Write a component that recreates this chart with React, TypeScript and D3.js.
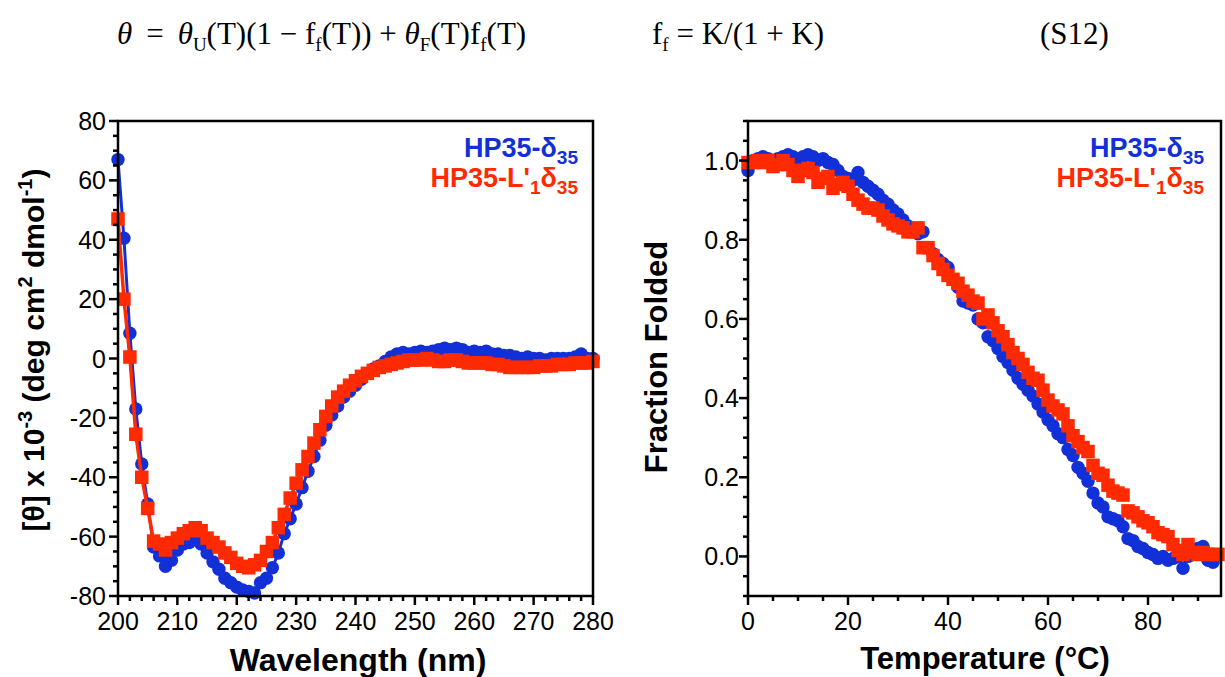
import React from 'react';
import * as d3 from 'd3';

// ---------- Data ----------
const wavelengths = [200,201,202,203,204,205,206,207,208,209,210,211,212,213,214,215,216,217,218,219,220,221,222,223,224,225,226,227,228,229,230,231,232,233,234,235,236,237,238,239,240,241,242,243,244,245,246,247,248,249,250,251,252,253,254,255,256,257,258,259,260,261,262,263,264,265,266,267,268,269,270,271,272,273,274,275,276,277,278,279,280];
const cdHP35 = [67,40.5,8.5,-17,-35.5,-49,-63.5,-66.5,-70,-68,-64.5,-62.5,-62,-61,-62.5,-65.5,-68.5,-71,-74,-75.5,-77,-78,-78.5,-79,-75.5,-74,-70.5,-65.5,-59,-54,-49,-43.5,-38,-33,-27.5,-22.5,-19,-16,-13,-11,-9,-7,-5,-3.5,-2.5,-1,0.5,1.5,2,1.5,2,2.5,2,2.5,3,3.5,3,3.5,3,2,2.5,2,2.5,1.5,1.5,1,1,0.5,0,0.5,0,0,-0.5,0,0,0,0,0.5,1.5,0,0];
const cdHP35L = [47,20,0.5,-25.5,-40,-50.5,-61.5,-62.5,-64.5,-62,-60.5,-59,-58,-57,-58,-60.5,-62,-63.5,-65.5,-67,-69,-70,-70.5,-69.5,-68,-65,-62,-57,-52.5,-47,-42,-37.5,-33,-28.5,-24,-19.5,-16,-13,-11,-9,-7.5,-6,-5,-4,-3,-2.5,-2,-1.5,-1,-0.5,-0.5,-0.5,0,-0.5,-1,-1,-0.5,-0.5,-1,-1.5,-1.5,-1.5,-1.5,-2,-2,-2.5,-3,-3,-3,-3,-3,-2.5,-2.5,-2.5,-2,-2,-2,-1.5,-1.5,-1.5,-1];

const tempHP35 = [0,1,2,3,4,5,6,7,8,9,10,11,12,13,14,15,16,17,18,19,20,21,22,23,24,25,26,27,28,29,30,31,32,33,34,35,36,37,38,39,40,41,42,43,44,45,46,47,48,49,50,51,52,53,54,55,56,57,58,59,60,61,62,63,64,65,66,67,68,69,70,71,72,73,74,75,76,77,78,79,80,81,82,83,84,85,86,87,88,89,90,91,92,93];
const ffHP35 = [0.975,1.0,1.005,1.01,1.005,1.0,1.005,1.01,1.015,1.01,1.0,1.01,1.015,1.01,1.0,1.005,0.995,0.99,0.975,0.96,0.955,0.95,0.97,0.945,0.935,0.925,0.915,0.9,0.89,0.875,0.865,0.85,0.835,0.825,0.815,0.82,0.78,0.765,0.75,0.74,0.73,0.7,0.68,0.645,0.64,0.635,0.6,0.59,0.555,0.545,0.525,0.505,0.49,0.47,0.45,0.435,0.42,0.405,0.385,0.365,0.345,0.33,0.31,0.3,0.27,0.255,0.225,0.21,0.19,0.16,0.135,0.125,0.1,0.095,0.09,0.075,0.045,0.04,0.025,0.02,0.01,0.005,-0.005,0.0,-0.01,-0.005,0.0,-0.03,0.0,0.005,0.02,0.025,-0.01,-0.015];
const tempHP35L = [0,1,2,3,4,5,6,7,8,9,10,11,12,13,14,15,16,17,18,19,20,21,22,23,24,25,26,27,28,29,30,31,32,33,34,35,36,37,38,39,40,41,42,43,44,45,46,47,48,49,50,51,52,53,54,55,56,57,58,59,60,61,62,63,64,65,66,67,68,69,70,71,72,73,74,75,76,77,78,79,80,81,82,83,84,85,86,87,88,89,90,91,92,93,94];
const ffHP35L = [0.995,0.995,1.0,0.995,1.0,0.985,0.99,1.0,0.99,0.975,0.96,0.975,0.98,0.97,0.945,0.955,0.96,0.93,0.94,0.945,0.935,0.915,0.9,0.89,0.88,0.88,0.875,0.86,0.85,0.84,0.835,0.83,0.82,0.82,0.83,0.78,0.78,0.76,0.74,0.725,0.71,0.7,0.69,0.67,0.66,0.645,0.64,0.6,0.61,0.59,0.57,0.555,0.535,0.515,0.5,0.485,0.465,0.45,0.445,0.42,0.395,0.38,0.37,0.36,0.33,0.305,0.29,0.275,0.265,0.23,0.21,0.205,0.18,0.165,0.16,0.155,0.115,0.11,0.1,0.09,0.085,0.075,0.06,0.055,0.05,0.03,0.015,0.005,0.03,0.01,0.005,0.01,0.005,0.005,0.005];

const cdXTicks = [200,210,220,230,240,250,260,270,280];
const cdYTicks = [-80,-60,-40,-20,0,20,40,60,80];
const meltXTicks = [0,20,40,60,80];
const meltYTicks = [0.0,0.2,0.4,0.6,0.8,1.0];

const BLUE = '#1230d8';
const RED = '#ff2a00';
const SANS = 'Liberation Sans, Arial, Helvetica, sans-serif';
const SERIF = 'Liberation Serif, Times New Roman, serif';

// ---------- Scales ----------
const cdX = d3.scaleLinear().domain([200, 280]).range([118, 593]);
const cdY = d3.scaleLinear().domain([-80, 80]).range([596, 121]);
const mX = d3.scaleLinear().domain([0, 94.6]).range([748, 1221]);
const mY = d3.scaleLinear().domain([-0.1, 1.1]).range([596, 121]);

const Legend = ({ x, y }: { x: number; y: number }) => (
  <g fontFamily={SANS} fontWeight="bold" fontSize={27} textAnchor="end">
    <text x={x} y={y} fill={BLUE}>
      HP35-δ<tspan fontSize={19} dy={7}>35</tspan>
    </text>
    <text x={x} y={y + 30} fill={RED}>
      HP35-L'<tspan fontSize={19} dy={7}>1</tspan><tspan dy={-7}>δ</tspan><tspan fontSize={19} dy={7}>35</tspan>
    </text>
  </g>
);

export default function App() {
  const cdLine = (vals: number[]) =>
    d3.line<number>().x((_, i) => cdX(wavelengths[i])).y((v) => cdY(v))(vals) || '';

  const cdMinorX = d3.range(200, 281, 2);
  const cdMinorY = d3.range(-80, 81, 5);
  const mMinorX = d3.range(0, 94, 5);
  const mMinorY = d3.range(-0.1, 1.1001, 0.05);

  const sq = 13.5;

  return (
    <svg width={1225} height={677} style={{ position: 'absolute', left: 0, top: 0, background: '#fff' }}>
      {/* Equation */}
      <g fontFamily={SERIF} fontSize={31} fill="#000">
        <text x={117} y={44}>
          <tspan fontStyle="italic">θ</tspan>{'\u2009 = \u2009'}<tspan fontStyle="italic">θ</tspan>
          <tspan fontSize={19} dy={7}>U</tspan><tspan dy={-7}>(T)(1 − f</tspan>
          <tspan fontSize={19} dy={7}>f</tspan><tspan dy={-7}>{'(T)) + '}</tspan>
          <tspan fontStyle="italic">θ</tspan><tspan fontSize={19} dy={7}>F</tspan>
          <tspan dy={-7}>(T)f</tspan><tspan fontSize={19} dy={7}>f</tspan><tspan dy={-7}>(T)</tspan>
        </text>
        <text x={652} y={44}>
          f<tspan fontSize={19} dy={7}>f</tspan><tspan dy={-7}> = K/(1 + K)</tspan>
        </text>
        <text x={1040} y={44}>(S12)</text>
      </g>

      {/* ---------- Left panel ---------- */}
      <g>
        <path d={cdLine(cdHP35)} fill="none" stroke={BLUE} strokeWidth={3} />
        {cdHP35.map((v, i) => (
          <circle key={'b' + i} cx={cdX(wavelengths[i])} cy={cdY(v)} r={6.7} fill={BLUE} />
        ))}
        <path d={cdLine(cdHP35L)} fill="none" stroke={RED} strokeWidth={3.5} />
        {cdHP35L.map((v, i) => (
          <rect key={'r' + i} x={cdX(wavelengths[i]) - sq / 2} y={cdY(v) - sq / 2} width={sq} height={sq} fill={RED} />
        ))}
        <rect x={118} y={121} width={593 - 118} height={596 - 121} fill="none" stroke="#000" strokeWidth={2.5} />
        {cdMinorX.map((t) => (
          <line key={'mx' + t} x1={cdX(t)} x2={cdX(t)} y1={596} y2={cdXTicks.includes(t) ? 605 : 601} stroke="#000" strokeWidth={2.5} />
        ))}
        {cdMinorY.map((t) => (
          <line key={'my' + t} y1={cdY(t)} y2={cdY(t)} x1={118} x2={cdYTicks.includes(t) ? 109 : 113} stroke="#000" strokeWidth={2.5} />
        ))}
        <g fontFamily={SANS} fontSize={25} fill="#000">
          {cdXTicks.map((t) => (
            <text key={'xt' + t} x={cdX(t)} y={630} textAnchor="middle">{t}</text>
          ))}
          {cdYTicks.map((t) => (
            <text key={'yt' + t} x={106} y={cdY(t) + 9} textAnchor="end">{t}</text>
          ))}
        </g>
        <text x={358} y={671} textAnchor="middle" fontFamily={SANS} fontWeight="bold" fontSize={32}>Wavelength (nm)</text>
        <text transform="translate(44,350) rotate(-90)" textAnchor="middle" fontFamily={SANS} fontWeight="bold" fontSize={30}>
          [θ] x 10<tspan fontSize={20} dy={-12}>-3</tspan><tspan dy={12}> (deg cm</tspan><tspan fontSize={20} dy={-12}>2</tspan><tspan dy={12}> dmol</tspan><tspan fontSize={20} dy={-12}>-1</tspan><tspan dy={12}>)</tspan>
        </text>
        <Legend x={578} y={157} />
      </g>

      {/* ---------- Right panel ---------- */}
      <g>
        {ffHP35.map((v, i) => (
          <circle key={'mb' + i} cx={mX(tempHP35[i])} cy={mY(v)} r={6.7} fill={BLUE} />
        ))}
        {ffHP35L.map((v, i) => (
          <rect key={'mr' + i} x={mX(tempHP35L[i]) - sq / 2} y={mY(v) - sq / 2} width={sq} height={sq} fill={RED} />
        ))}
        <rect x={748} y={121} width={1221 - 748} height={596 - 121} fill="none" stroke="#000" strokeWidth={2.5} />
        {mMinorX.map((t) => (
          <line key={'nx' + t} x1={mX(t)} x2={mX(t)} y1={596} y2={t % 20 === 0 ? 605 : 601} stroke="#000" strokeWidth={2.5} />
        ))}
        {mMinorY.map((t, i) => (
          <line key={'ny' + i} y1={mY(t)} y2={mY(t)} x1={748} x2={i % 4 === 2 ? 739 : 743} stroke="#000" strokeWidth={2.5} />
        ))}
        <g fontFamily={SANS} fontSize={25} fill="#000">
          {meltXTicks.map((t) => (
            <text key={'mxt' + t} x={mX(t)} y={630} textAnchor="middle">{t}</text>
          ))}
          {meltYTicks.map((t) => (
            <text key={'myt' + t} x={739} y={mY(t) + 9} textAnchor="end">{t.toFixed(1)}</text>
          ))}
        </g>
        <text x={985} y={669} textAnchor="middle" fontFamily={SANS} fontWeight="bold" fontSize={31}>Temperature (°C)</text>
        <text transform="translate(667,357) rotate(-90)" textAnchor="middle" fontFamily={SANS} fontWeight="bold" fontSize={31}>Fraction Folded</text>
        <Legend x={1204} y={157} />
      </g>
    </svg>
  );
}
